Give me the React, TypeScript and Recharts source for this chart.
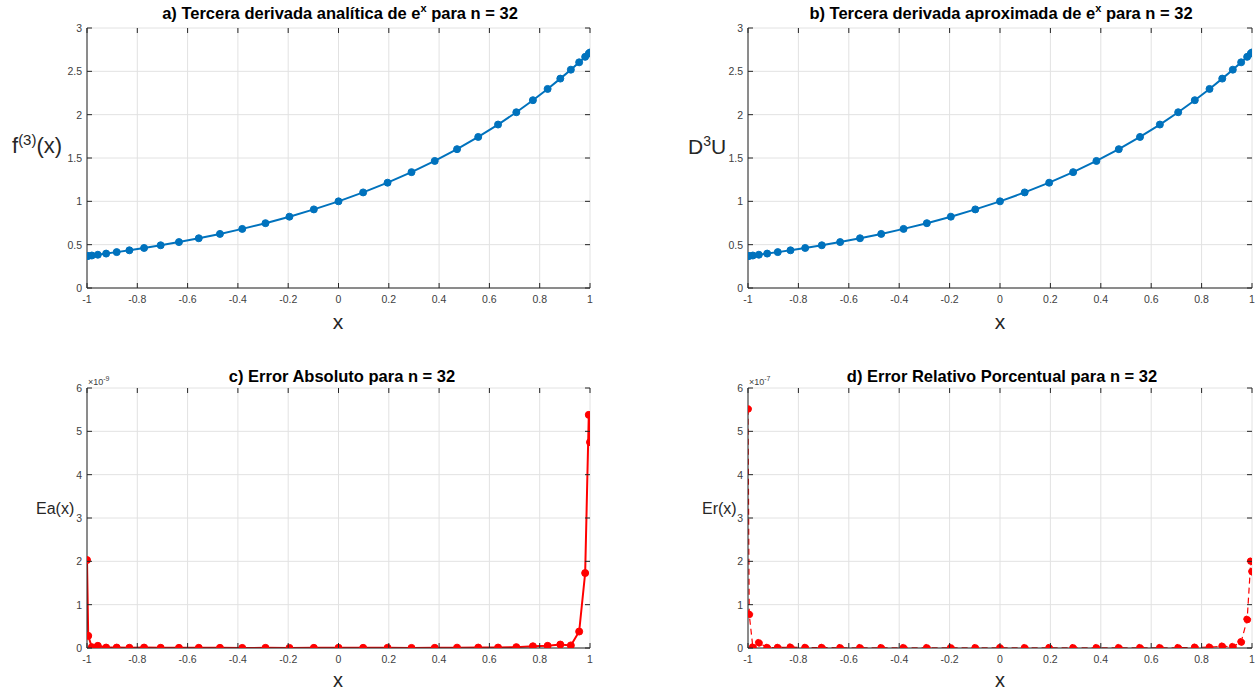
import React from 'react';
import { LineChart, Line, XAxis, YAxis, CartesianGrid } from 'recharts';

// nodos de Chebyshev (n = 32), de -1 a 1
const xNodes = [
  -1, -0.99518, -0.98079, -0.95694, -0.92388, -0.88192, -0.83147, -0.77301, -0.70711,
  -0.63439, -0.55557, -0.4714, -0.38268, -0.29028, -0.19509, -0.09802, 0,
  0.09802, 0.19509, 0.29028, 0.38268, 0.4714, 0.55557, 0.63439, 0.70711,
  0.77301, 0.83147, 0.88192, 0.92388, 0.95694, 0.98079, 0.99518, 1,
];

const analyticD3 = [
  0.368, 0.37, 0.375, 0.384, 0.397, 0.414, 0.435, 0.462, 0.493, 0.53, 0.574, 0.624, 0.682,
  0.748, 0.823, 0.907, 1.0, 1.103, 1.215, 1.337, 1.466, 1.602, 1.743, 1.886, 2.028, 2.167,
  2.297, 2.416, 2.519, 2.604, 2.667, 2.705, 2.718,
];

const approxD3 = [
  0.368, 0.37, 0.375, 0.384, 0.397, 0.414, 0.435, 0.462, 0.493, 0.53, 0.574, 0.624, 0.682,
  0.748, 0.823, 0.907, 1.0, 1.103, 1.215, 1.337, 1.466, 1.602, 1.743, 1.886, 2.028, 2.167,
  2.297, 2.416, 2.519, 2.604, 2.667, 2.705, 2.718,
];

// error absoluto, en unidades de 1e-9
const absError = [
  2.03, 0.28, 0.02, 0.05, 0.01, 0.01, 0.005, 0.01, 0.005, 0.003, 0.004, 0.003, 0.002,
  0.003, 0.002, 0.003, 0.004, 0.003, 0.004, 0.002, 0.003, 0.008, 0.01, 0.01, 0.02,
  0.04, 0.05, 0.08, 0.06, 0.38, 1.73, 5.38, 4.75,
];

// error relativo porcentual, en unidades de 1e-7
const relError = [
  5.52, 0.78, 0.02, 0.12, 0.01, 0.01, 0.02, 0.01, 0.01, 0.005, 0.005, 0.004, 0.005,
  0.004, 0.005, 0.003, 0.004, 0.003, 0.004, 0.003, 0.003, 0.005, 0.006, 0.005, 0.006,
  0.015, 0.02, 0.04, 0.03, 0.14, 0.66, 2.0, 1.76,
];

const xTicks = [-1, -0.8, -0.6, -0.4, -0.2, 0, 0.2, 0.4, 0.6, 0.8, 1];
const d3Ticks = [0, 0.5, 1, 1.5, 2, 2.5, 3];
const errTicks = [0, 1, 2, 3, 4, 5, 6];

const FONT = '"Liberation Sans", Arial, Helvetica, sans-serif';
const AXIS = '#262626';
const TICK_TEXT = '#404040';
const GRID = '#e2e2e2';
const BLUE = '#0072BD';
const RED = '#FF0000';

// offsets inside each chart svg
const PAD_L = 60;
const PAD_T = 10;
const PAD_R = 10;
const PAD_B = 40;

type Box = { left: number; top: number; width: number; height: number };

const fmt = (v: number) => String(Math.round(v * 10) / 10);

interface PanelProps {
  box: Box;
  ys: number[];
  yTicks: number[];
  color: string;
  dashed?: boolean;
  strokeWidth: number;
  dotR: number;
}

const Panel: React.FC<PanelProps> = ({ box, ys, yTicks, color, dashed, strokeWidth, dotR }) => {
  const data = xNodes.map((x, i) => ({ x, y: ys[i] }));
  const w = box.width;
  const h = box.height;
  const bottom = PAD_T + h;

  const xTick = (p: any) => (
    <g>
      <line x1={p.x} x2={p.x} y1={bottom} y2={bottom - 5} stroke={AXIS} />
      <line x1={p.x} x2={p.x} y1={PAD_T} y2={PAD_T + 5} stroke={AXIS} />
      <text x={p.x} y={bottom + 15} textAnchor="middle" fontSize={10.5} fill={TICK_TEXT} fontFamily={FONT}>
        {fmt(p.payload.value)}
      </text>
    </g>
  );

  const yTick = (p: any) => (
    <g>
      <line x1={PAD_L} x2={PAD_L + 5} y1={p.y} y2={p.y} stroke={AXIS} />
      <line x1={PAD_L + w} x2={PAD_L + w - 5} y1={p.y} y2={p.y} stroke={AXIS} />
      <text x={PAD_L - 5} y={p.y + 4} textAnchor="end" fontSize={10.5} fill={TICK_TEXT} fontFamily={FONT}>
        {fmt(p.payload.value)}
      </text>
    </g>
  );

  return (
    <div style={{ position: 'absolute', left: box.left - PAD_L, top: box.top - PAD_T }}>
      <LineChart
        width={w + PAD_L + PAD_R}
        height={h + PAD_T + PAD_B}
        data={data}
        margin={{ top: PAD_T, right: PAD_R, bottom: 20, left: 30 }}
      >
        <CartesianGrid stroke={GRID} />
        <XAxis
          dataKey="x"
          type="number"
          domain={[-1, 1]}
          ticks={xTicks}
          height={20}
          axisLine={{ stroke: AXIS }}
          tickLine={false}
          tick={xTick}
          allowDataOverflow
        />
        <XAxis
          xAxisId="top"
          orientation="top"
          type="number"
          domain={[-1, 1]}
          ticks={xTicks}
          height={0}
          axisLine={{ stroke: AXIS }}
          tickLine={false}
          tick={false}
        />
        <YAxis
          type="number"
          domain={[yTicks[0], yTicks[yTicks.length - 1]]}
          ticks={yTicks}
          width={30}
          axisLine={{ stroke: AXIS }}
          tickLine={false}
          tick={yTick}
          allowDataOverflow
        />
        <YAxis
          yAxisId="right"
          orientation="right"
          type="number"
          domain={[yTicks[0], yTicks[yTicks.length - 1]]}
          ticks={yTicks}
          width={0}
          axisLine={{ stroke: AXIS }}
          tickLine={false}
          tick={false}
        />
        <Line
          dataKey="y"
          type="linear"
          stroke={color}
          strokeWidth={strokeWidth}
          strokeDasharray={dashed ? '6 4' : undefined}
          dot={{ r: dotR, fill: color, stroke: color, strokeWidth: 1 }}
          isAnimationActive={false}
        />
      </LineChart>
    </div>
  );
};

const abs = (style: React.CSSProperties, children: React.ReactNode) => (
  <div style={{ position: 'absolute', fontFamily: FONT, color: AXIS, whiteSpace: 'nowrap', lineHeight: 1, ...style }}>
    {children}
  </div>
);

const sup = (t: string, size: number, lift: number) => (
  <span style={{ fontSize: size, position: 'relative', top: -lift }}>{t}</span>
);

const Title: React.FC<{ cx: number; cy: number; children: React.ReactNode }> = ({ cx, cy, children }) =>
  abs(
    { left: cx, top: cy, transform: 'translate(-50%, -50%)', fontSize: 16.5, fontWeight: 'bold', color: '#000' },
    children
  );

const boxA: Box = { left: 87, top: 28, width: 503, height: 260 };
const boxB: Box = { left: 748, top: 28, width: 504, height: 260 };
const boxC: Box = { left: 87, top: 388, width: 503, height: 260 };
const boxD: Box = { left: 748, top: 388, width: 504, height: 260 };

export default function App() {
  return (
    <div style={{ position: 'fixed', left: 0, top: 0, width: 1258, height: 692, background: '#fff', overflow: 'hidden' }}>
      <Panel box={boxA} ys={analyticD3} yTicks={d3Ticks} color={BLUE} strokeWidth={2} dotR={3.5} />
      <Panel box={boxB} ys={approxD3} yTicks={d3Ticks} color={BLUE} strokeWidth={2} dotR={3.5} />
      <Panel box={boxC} ys={absError} yTicks={errTicks} color={RED} strokeWidth={2} dotR={3.5} />
      <Panel box={boxD} ys={relError} yTicks={errTicks} color={RED} dashed strokeWidth={1.2} dotR={3.5} />

      <Title cx={340} cy={13}>
        a) Tercera derivada analítica de e{sup('x', 11, 7)} para n = 32
      </Title>
      <Title cx={1001} cy={13}>
        b) Tercera derivada aproximada de e{sup('x', 11, 7)} para n = 32
      </Title>
      <Title cx={342} cy={376}>c) Error Absoluto para n = 32</Title>
      <Title cx={1002} cy={376}>d) Error Relativo Porcentual para n = 32</Title>

      {abs({ left: 12, top: 135, fontSize: 22 }, <>f{sup('(3)', 15, 8)}(x)</>)}
      {abs({ left: 688, top: 136, fontSize: 21 }, <>D{sup('3', 14, 8)}U</>)}
      {abs({ left: 36, top: 501, fontSize: 16 }, 'Ea(x)')}
      {abs({ left: 702, top: 501, fontSize: 16 }, 'Er(x)')}

      {abs({ left: 338, top: 321, fontSize: 21, transform: 'translate(-50%, -50%)' }, 'x')}
      {abs({ left: 1000, top: 321, fontSize: 21, transform: 'translate(-50%, -50%)' }, 'x')}
      {abs({ left: 338, top: 680, fontSize: 20, transform: 'translate(-50%, -50%)' }, 'x')}
      {abs({ left: 1000, top: 680, fontSize: 20, transform: 'translate(-50%, -50%)' }, 'x')}

      {abs({ left: 88, top: 378, fontSize: 9, color: TICK_TEXT }, <>×10{sup('-9', 7, 4)}</>)}
      {abs({ left: 749, top: 378, fontSize: 9, color: TICK_TEXT }, <>×10{sup('-7', 7, 4)}</>)}
    </div>
  );
}
